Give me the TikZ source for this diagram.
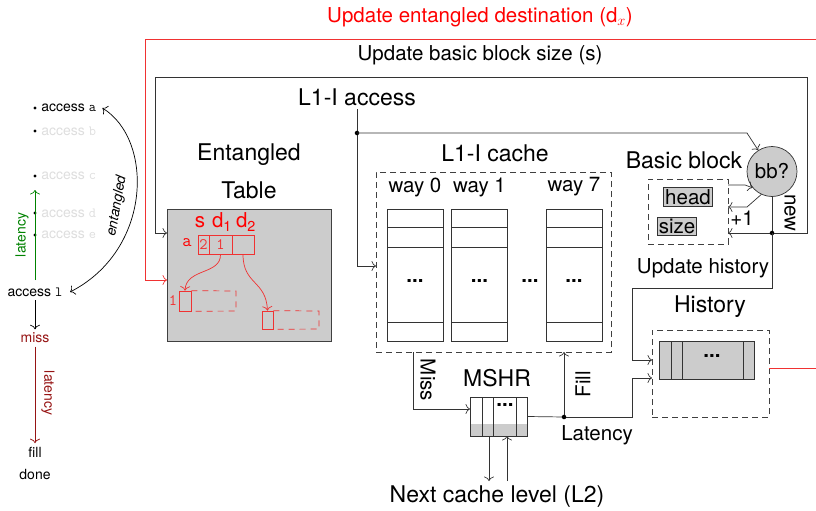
\documentclass[tikz,border=0pt]{standalone}
\usepackage{fontspec}
\setmainfont{TeX Gyre Heros}
\usetikzlibrary{arrows,arrows.meta}
\definecolor{darkred}{RGB}{150,20,20}
\definecolor{linered}{RGB}{240,50,50}
\definecolor{fadetext}{RGB}{222,222,222}
\definecolor{fadegreen}{RGB}{0,130,0}

\begin{document}
\begin{tikzpicture}[x=1pt,y=-1pt,>={To[length=4.5pt,width=10pt]},line width=0.7pt,
    big/.style={font=\fontsize{23}{26}\selectfont},
    mid/.style={font=\fontsize{20.5}{24}\selectfont},
    small/.style={font=\fontsize{14}{16}\selectfont},
    wire/.style={draw=black!80},
    dashbox/.style={draw=black!75,dash pattern=on 6pt off 4pt,line width=0.8pt},
    graybox/.style={draw=black!80,fill=black!20,inner sep=0pt},
    entry/.style={draw=linered,inner sep=0pt,minimum height=19,text=linered,font=\fontsize{16}{18}\ttfamily},
    jdot/.style={circle,fill,inner sep=1.6pt}]
    \useasboundingbox (0,0) rectangle (816,511);
    \clip (0,0) rectangle (816,511);

    % left time line
    \foreach \y/\n/\c in {108/a/black,131/b/fadetext,176/c/fadetext,213/d/fadetext,235/e/fadetext}{
        \fill (35,\y) circle (1.6pt);
        \node[small,anchor=west,text=\c,inner xsep=1pt] (acc\n) at (40,\y) {access \texttt{\n}};
    }
    \node[small] (accl) at (35,292) {access \texttt{l}};
    \coordinate (latB) at (35,280);
    \coordinate (latT) at (35,190);
    \draw[->,fadegreen] (latB) -- (latT);
    \node[small,text=fadegreen,rotate=90] (latg) at (22,235) {latency};
    \draw[<->] (accl.east) ++(4,0) .. controls (152,250) and (154,140) .. ([xshift=5pt]acca.east);
    \node[small,rotate=80,inner sep=1pt] (entl) at (117,206) {\itshape entangled};
    \node[small,text=darkred] (miss) at (35,338) {miss};
    \draw[->] (accl.south) -- (miss.north);
    \node[small] (fill) at (35,452) {fill};
    \node[small] (done) at (35,474) {done};
    \draw[->,darkred] (miss.south) -- (fill.north);
    \node[small,text=darkred,rotate=-90] (latr) at (48,393) {latency};

    % top labels
    \node[mid,text=red] (updd) at (480,17) {Update entangled destination (d$_x$)};
    \node[mid] (upds) at (480,55) {Update basic block size (s)};

    % entangled table
    \node[big] (tblt1) at (249,155) {Entangled};
    \node[big] (tblt2) at (249,190) {Table};
    \node[draw=black!75,fill=black!20,minimum width=164,minimum height=132] (tbl) at (249,275) {};
    \node[mid,text=red] (ls) at (200,222) {s};
    \node[mid,text=red] (ld1) at (222,222) {d\textsubscript{1}};
    \node[mid,text=red] (ld2) at (246,222) {d\textsubscript{2}};
    \node[text=red,font=\fontsize{18}{18}\ttfamily] (la) at (187,243) {a};
    \node[entry,minimum width=11] (es) at (203.5,244.5) {2};
    \node[entry,minimum width=23] (ed1) at (220.5,244.5) {1};
    \node[entry,minimum width=22] (ed2) at (243,244.5) {};
    \node[entry,minimum width=12,minimum height=20] (blk1) at (185,301) {};
    \draw[linered,dash pattern=on 6pt off 5pt] (blk1.north east) -- (236,291) -- (236,311) -- (blk1.south east);
    \node[text=linered,font=\fontsize{16}{18}\ttfamily] (l1) at (173,301) {1};
    \node[entry,minimum width=11,minimum height=18] (blk2) at (267.5,320) {};
    \draw[linered,dash pattern=on 6pt off 5pt] (blk2.north east) -- (319,311) -- (319,329) -- (blk2.south east);
    \draw[->,linered] (ed1.south) .. controls (221,275) and (186,268) .. (blk1.north);
    \draw[->,linered] (ed2.south) .. controls (243,285) and (266,280) .. (blk2.north);

    % L1-I cache
    \node[big] (acc) at (357,97) {L1-I access};
    \coordinate (accJ) at (357,133);
    \node[big] (cachet) at (495,153) {L1-I cache};
    \node[dashbox,minimum width=235,minimum height=180] (cache) at (493.5,262) {};
    \foreach \x/\w in {415/0,479.5/1,574/7}{
        \node[mid] (wayt\w) at (\x,187) {way \w};
        \draw[black!80] (\x-28,209) rectangle (\x+28,341);
        \foreach \y in {227,247,322} \draw[black!80] (\x-28,\y) -- (\x+28,\y);
        \node[mid] (way\w) at (\x,281) {\textbf{...}};
    }
    \node[mid] (waydots) at (530,281) {\textbf{...}};
    \coordinate (cacheIn) at (376,266);
    \draw[wire] (acc.south) -- (accJ);
    \draw[wire,->] (accJ) |- (cacheIn);
    \node[jdot] at (accJ) {};

    % basic block
    \node[circle,draw=black!80,fill=black!20,minimum size=50,mid,inner sep=0pt] (bb) at (772,171.5) {bb?};
    \draw[wire,->] (accJ) -- (747,133) -- (bb);
    \node[big] (bbt) at (684,160) {Basic block};
    \node[dashbox,minimum width=80,minimum height=65] (bbbox) at (688,211.5) {};
    \node[graybox,mid,inner xsep=2pt,minimum height=19] (head) at (688,197) {head};
    \node[graybox,mid,inner xsep=1pt,minimum height=18] (size) at (677,226) {size};
    \coordinate (bbOut) at (728,185);
    \coordinate (bbInc) at (728,207);
    \coordinate (bbIn) at (728,233);
    \coordinate (J1) at (772,233);
    \draw[wire,->] (bbOut) -- (745,185) -- (bb.220);
    \draw[wire,->] (bb.245) -- (747,207) -- (bbInc);
    \node[mid] (inc) at (742,218) {+1};
    \draw[wire] (bb.south) -- (J1);
    \node[mid,rotate=-90] (new) at (790,213) {new};
    \draw[wire,->] (J1) -- (bbIn);
    \coordinate (tblIn) at (167,233);
    \draw[wire,->] (J1) -- (807,233) -- (807,77) -- (155,77) |- (tblIn);
    \node[jdot] at (J1) {};

    % history
    \node[mid] (updh) at (703,268) {Update history};
    \node[big] (histt) at (710,307) {History};
    \node[dashbox,minimum width=117,minimum height=87] (hist) at (710.5,373.5) {};
    \node[graybox,minimum width=95,minimum height=38] (histq) at (706.5,360) {};
    \foreach \x in {671,682,743} \draw[black!80] (\x,341) -- (\x,379);
    \node[mid] (histdots) at (712,356) {\textbf{...}};
    \coordinate (histIn1) at (652,360);
    \coordinate (histIn2) at (652,378);
    \draw[wire,->] (J1) -- (772,288) -- (632,288) |- (histIn1);

    % MSHR
    \node[big] (mshrt) at (497,378) {MSHR};
    \fill[black!20] (470,424) rectangle (527,436);
    \node[draw=black!80,minimum width=57,minimum height=39,inner sep=0pt] (mshr) at (498.5,416.5) {};
    \foreach \x in {482,493,516} \draw[black!80] (\x,397) -- (\x,436);
    \node[mid] (mshrdots) at (505,405) {\textbf{...}};
    \coordinate (missOut) at (413,352);
    \coordinate (mshrIn) at (470,409);
    \draw[wire,->] (missOut) |- (mshrIn);
    \node[mid,rotate=-90] (miss2) at (428,380) {Miss};
    \coordinate (latJ) at (564,417);
    \coordinate (fillIn) at (564,352);
    \draw[wire] (mshr.east) -- (latJ);
    \draw[wire,->] (latJ) -- (fillIn);
    \draw[wire,->] (latJ) -- (632,417) |- (histIn2);
    \node[jdot] at (latJ) {};
    \node[mid,rotate=90] (fillt) at (583,384) {Fill};
    \node[mid] (latt) at (597,435) {Latency};
    \node[big] (l2) at (497,497) {Next cache level (L2)};
    \coordinate (mshrD) at (489,436);
    \coordinate (l2D) at (489,481);
    \coordinate (mshrU) at (507,436);
    \coordinate (l2U) at (507,481);
    \draw[wire,->] (mshrD) -- (l2D);
    \draw[wire,->] (l2U) -- (mshrU);

    % entangled destination update
    \coordinate (histOut) at (769,368);
    \coordinate (tblRed) at (167,280);
    \draw[linered,->] (histOut) -- (830,368) -- (830,39) -- (145,39) |- (tblRed);
\end{tikzpicture}
\end{document}
